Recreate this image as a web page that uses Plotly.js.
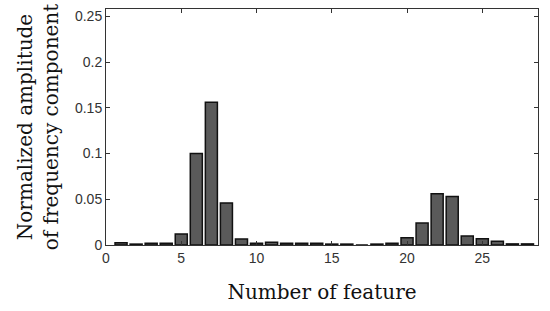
<!DOCTYPE html>
<html>
<head>
<meta charset="utf-8">
<script src="https://cdn.plot.ly/plotly-3.0.1.min.js"></script>
<style>
  html, body { margin: 0; padding: 0; background: #fff; }
  #chart { width: 550px; height: 311px; }
</style>
</head>
<body>
<div id="chart"></div>
<script>
// feature index and normalized amplitude
const features = [1, 2, 3, 4, 5, 6, 7, 8, 9, 10, 11, 12, 13, 14, 15, 16, 17, 18, 19, 20, 21, 22, 23, 24, 25, 26, 27, 28];
const amplitude = [0.0025, 0.001, 0.002, 0.002, 0.012, 0.100, 0.156, 0.046, 0.0065, 0.002, 0.003, 0.002,
                   0.002, 0.002, 0.001, 0.001, 0, 0.001, 0.002, 0.008, 0.024, 0.056, 0.053, 0.0098,
                   0.0069, 0.004, 0.0012, 0.0012];
const xTicks = [0, 5, 10, 15, 20, 25];
const yTicks = [0, 0.05, 0.1, 0.15, 0.2, 0.25];

const axisFont = { family: "Arial, Liberation Sans, sans-serif", size: 14, color: "#333" };
const titleFont = { family: "DejaVu Serif, serif", size: 20, color: "#111" };

Plotly.newPlot("chart", [{
  x: features,
  y: amplitude,
  type: "bar",
  width: 0.8,
  marker: { color: "#5a5a5a", line: { color: "#111", width: 1.5 } },
  hoverinfo: "x+y"
}], {
  width: 550,
  height: 311,
  margin: { l: 106, r: 12, t: 9, b: 66 },
  paper_bgcolor: "#fff",
  plot_bgcolor: "#fff",
  showlegend: false,
  xaxis: {
    range: [0, 28.7],
    tickvals: xTicks,
    ticks: "inside",
    ticklen: 4,
    tickcolor: "#333",
    showline: true,
    linecolor: "#333",
    linewidth: 1,
    mirror: "ticks",
    showgrid: false,
    zeroline: false,
    tickfont: axisFont,
    title: { text: "Number of feature", font: titleFont, standoff: 20 }
  },
  yaxis: {
    range: [0, 0.258],
    tickvals: yTicks,
    ticks: "inside",
    ticklen: 4,
    tickcolor: "#333",
    showline: true,
    linecolor: "#333",
    linewidth: 1,
    mirror: "ticks",
    showgrid: false,
    zeroline: false,
    tickfont: axisFont,
    title: { text: "Normalized amplitude<br>of frequency component", font: titleFont, standoff: 10 }
  }
}, { displayModeBar: false, staticPlot: true });
</script>
</body>
</html>
